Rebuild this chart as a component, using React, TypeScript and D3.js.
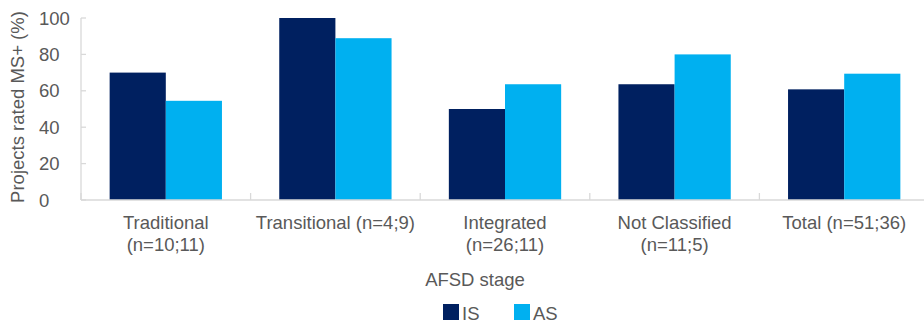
import React from "react";
import * as d3 from "d3";

const categories = ["Traditional", "Transitional", "Integrated", "Not Classified", "Total"];
const categoryLabels: string[][] = [
  ["Traditional", "(n=10;11)"],
  ["Transitional (n=4;9)"],
  ["Integrated", "(n=26;11)"],
  ["Not Classified", "(n=11;5)"],
  ["Total (n=51;36)"],
];
const seriesNames = ["IS", "AS"];
const isValues = [70, 100, 50, 63.6, 60.8];
const asValues = [54.5, 88.9, 63.6, 80, 69.4];
const yTicks = [0, 20, 40, 60, 80, 100];

const colors: Record<string, string> = { IS: "#002060", AS: "#00B0F0" };
const textColor = "#595959";
const axisColor = "#d9d9d9";
const font = "'Liberation Sans', Arial, sans-serif";

export default function App() {
  const W = 924;
  const H = 324;
  const left = 81;
  const right = 929;
  const top = 18;
  const bottom = 200;

  const x0 = d3.scaleBand<string>().domain(categories).range([left, right]).paddingInner(0).paddingOuter(0);
  const x1 = d3.scaleBand<string>().domain(seriesNames).range([0, x0.bandwidth()]).paddingInner(0).paddingOuter(0.51);
  const y = d3.scaleLinear().domain([0, 100]).range([bottom, top]);

  const values: Record<string, number[]> = { IS: isValues, AS: asValues };
  const fs = 18.5;

  return (
    <svg width={W} height={H} style={{ position: "absolute", left: 0, top: 0 }} fontFamily={font}>
      <rect x={0} y={0} width={W} height={H} fill="#fff" />
      {/* bars */}
      {categories.map((c, i) =>
        seriesNames.map((s) => (
          <rect
            key={c + s}
            x={(x0(c) as number) + (x1(s) as number)}
            y={y(values[s][i])}
            width={x1.bandwidth()}
            height={bottom - y(values[s][i])}
            fill={colors[s]}
          />
        ))
      )}
      {/* y axis */}
      <line x1={left} x2={left} y1={top} y2={bottom} stroke={axisColor} strokeWidth={1.3} />
      {yTicks.map((t) => (
        <g key={t}>
          <line x1={left} x2={left + 5} y1={y(t)} y2={y(t)} stroke={axisColor} strokeWidth={1.3} />
          <text x={39} y={y(t) + 6.5} fontSize={fs} fill={textColor}>
            {t}
          </text>
        </g>
      ))}
      {/* x axis */}
      <line x1={left} x2={W} y1={bottom} y2={bottom} stroke={axisColor} strokeWidth={1.3} />
      {categories.map((c) => (
        <line
          key={"t" + c}
          x1={x0(c) as number}
          x2={x0(c) as number}
          y1={bottom}
          y2={bottom - 7}
          stroke={axisColor}
          strokeWidth={1.3}
        />
      ))}
      {categories.map((c, i) => (
        <text
          key={"l" + c}
          x={(x0(c) as number) + x0.bandwidth() / 2}
          textAnchor="middle"
          fontSize={fs}
          fill={textColor}
        >
          {categoryLabels[i].map((ln, j) => (
            <tspan key={j} x={(x0(c) as number) + x0.bandwidth() / 2} y={229 + j * 22}>
              {ln}
            </tspan>
          ))}
        </text>
      ))}
      {/* axis titles */}
      <text x={475} y={286} textAnchor="middle" fontSize={fs} fill={textColor}>
        AFSD stage
      </text>
      <text
        transform={`translate(24,107) rotate(-90)`}
        textAnchor="middle"
        fontSize={fs}
        fill={textColor}
      >
        Projects rated MS+ (%)
      </text>
      {/* legend */}
      {seriesNames.map((s, i) => {
        const lx = i === 0 ? 443 : 514;
        return (
          <g key={"lg" + s}>
            <rect x={lx} y={304} width={16} height={16} fill={colors[s]} />
            <text x={lx + 19} y={320} fontSize={fs} fill={textColor}>
              {s}
            </text>
          </g>
        );
      })}
    </svg>
  );
}
